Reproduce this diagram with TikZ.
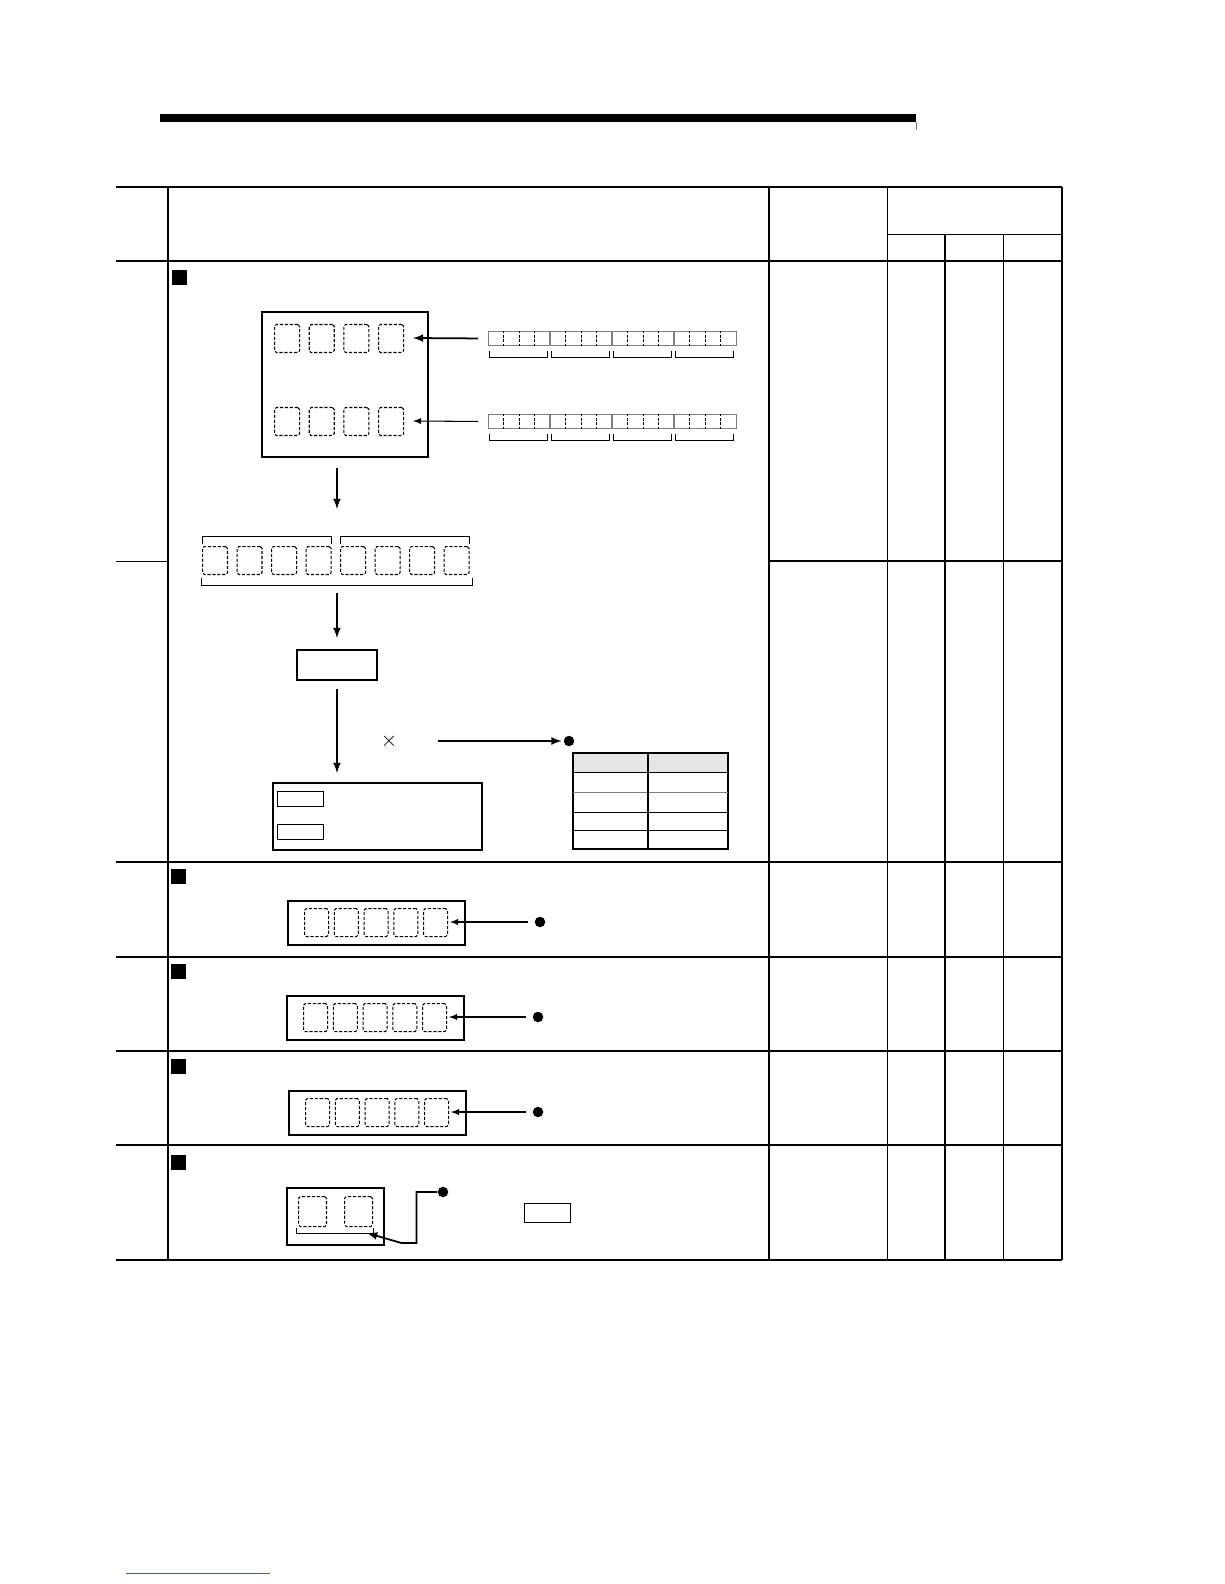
\documentclass[tikz,border=0pt]{standalone}
\usepackage{tikz}
\usetikzlibrary{arrows, positioning, fit, calc}

\begin{document}
\begin{tikzpicture}[x=0.02cm, y=-0.02cm]
    % Styles
    \tikzstyle{frame} = [line width=1.4pt]
    \tikzstyle{rule} = [line width=1pt]
    \tikzstyle{hair} = [line width=0.55pt]
    \tikzstyle{block} = [rectangle, draw, line width=1pt, inner sep=0pt, anchor=north west]
    \tikzstyle{keybox} = [rectangle, draw, line width=0.5pt, inner sep=0pt, anchor=north west, minimum width=0.92cm, minimum height=0.3cm]
    \tikzstyle{digit} = [rectangle, draw, dash pattern=on 1.8pt off 1pt, line width=0.6pt, rounded corners=1pt, inner sep=0pt, minimum width=0.5cm, minimum height=0.56cm, anchor=north west]
    \tikzstyle{bits} = [rectangle, draw=gray, line width=0.6pt, inner sep=0pt, minimum width=4.96cm, minimum height=0.28cm, anchor=north west]
    \tikzstyle{bullet} = [rectangle, fill, inner sep=0pt, minimum size=0.3cm, anchor=north west]
    \tikzstyle{dot} = [circle, fill, inner sep=0pt, minimum size=0.21cm]
    \tikzstyle{line} = [draw, -latex, line width=1pt]
    \tikzstyle{wire} = [draw, -latex, line width=0.6pt]

    \useasboundingbox (0,0) rectangle (1224,1584);

    % --- PAGE HEADER BAR ---
    \fill (160,114) rectangle (916,122);
    \draw[gray, line width=0.3pt] (916,122) -- (916,130);

    % --- TABLE GRID ---
    \draw[frame] (116,187) -- (1062,187);
    \draw[frame] (116,261) -- (1062,261);
    \draw[frame] (116,1260) -- (1062,1260);
    \draw[hair] (887,234) -- (1062,234);
    \draw[rule] (168,187) -- (168,1260);
    \draw[rule] (769,187) -- (769,1260);
    \draw[hair] (887,187) -- (887,1260);
    \draw[rule] (945,234) -- (945,1260);
    \draw[hair] (1003,234) -- (1003,1260);
    \draw[frame] (1062,187) -- (1062,1260);
    \draw[hair] (116,561) -- (168,561);
    \draw[rule] (769,561) -- (1062,561);
    \foreach \y in {862,957,1051,1145}
        \draw[rule] (116,\y) -- (1062,\y);

    % --- ROW 1: REGISTER PAIR ---
    \node[bullet] (sq1) at (172,270) {};
    \node[block, minimum width=3.32cm, minimum height=2.9cm] (reg) at (261,311) {};
    \foreach \i in {0,...,3} {
        \node[digit] (up\i) at ({274+34.7*\i},324) {};
        \node[digit] (lo\i) at ({274+34.7*\i},407) {};
    }

    % bit strips, 4 groups of 4 bits
    \node[bits] (bitsA) at (488,331) {};
    \node[bits] (bitsB) at (488,414) {};
    \foreach \s in {bitsA,bitsB} {
        \foreach \k in {1,...,15} {
            \pgfmathtruncatemacro{\grp}{mod(\k,4)}
            \ifnum\grp=0
                \draw[gray, line width=0.6pt] ($(\s.north west)+(\k*15.5,0)$) -- ($(\s.south west)+(\k*15.5,0)$);
            \else
                \draw[dash pattern=on 1.4pt off 1pt, line width=0.45pt] ($(\s.north west)+(\k*15.5,0)$) -- ($(\s.south west)+(\k*15.5,0)$);
            \fi
        }
        \foreach \g in {0,...,3}
            \draw[line width=0.45pt] ($(\s.south west)+(1+62*\g,5)$) -- ++(0,6) -- ++(58,0) -- ++(0,-6);
    }
    \coordinate (inA) at (413,338);
    \coordinate (inB) at (413,421);
    \path[line, shorten <=0.2cm] (bitsA.west) -- (inA);
    \path[wire, shorten <=0.2cm] (bitsB.west) -- (inB);

    % combined 8-digit word
    \foreach \i in {0,...,7}
        \node[digit] (q\i) at ({202+34.5*\i},546) {};
    \draw[line width=0.45pt] ($(q0.north west)+(0,-2)$) -- ++(0,-8) -| ($(q3.north east)+(0,-2)$);
    \draw[line width=0.45pt] ($(q4.north west)+(0,-2)$) -- ++(0,-8) -| ($(q7.north east)+(0,-2)$);
    \draw[line width=0.45pt] ($(q0.south west)+(-1,3)$) -- ++(0,7) -| ($(q7.south east)+(3,3)$);

    \node[block, line width=1.1pt, minimum width=1.6cm, minimum height=0.6cm] (conv) at (296,649) {};
    \node[block, line width=1.1pt, minimum width=4.18cm, minimum height=1.34cm] (res) at (272,782) {};
    \node[keybox] (key1) at (277,791) {};
    \node[keybox] (key2) at (277,824) {};

    \path[line, shorten <=0.2cm, shorten >=0.74cm] (conv |- reg.south) -- (conv |- q0.north);
    \path[line, shorten <=0.36cm, shorten >=0.22cm] (conv |- q0.south) -- (conv.north);
    \path[line, shorten <=0.16cm, shorten >=0.18cm] (conv.south) -- (conv |- res.north);

    % scaling to output
    \node[inner sep=0pt] (times) at (389,741) {\large$\times$};
    \coordinate (fromA) at (438,741);
    \node[dot] (dotA) at (569,741) {};
    \path[line, shorten >=1pt] (fromA) -- (dotA.west);

    % lookup table
    \node[draw, line width=0.8pt, inner sep=0pt, minimum width=3.1cm, minimum height=1.92cm, anchor=north west] (tbl) at (573,753) {};
    \fill[gray!20] (574,754) rectangle (727,772);
    \draw[line width=0.8pt] (573,753) rectangle (728,849);
    \draw[hair] (573,772) -- (728,772);
    \draw[gray, hair] (573,792) -- (728,792);
    \draw[hair] (573,812) -- (728,812);
    \draw[hair] (573,830) -- (728,830);
    \draw[line width=0.9pt] (648,753) -- (648,849);

    % --- ROWS 2 TO 4: FIVE-DIGIT DISPLAYS ---
    \foreach \n/\bx/\by/\dx in {2/287/900/540, 3/286/995/538, 4/288/1090/538} {
        \node[bullet] (sq\n) at (171,{\by-31}) {};
        \node[block, minimum width=3.54cm, minimum height=0.88cm] (disp\n) at (\bx,\by) {};
        \foreach \i in {0,...,4}
            \node[digit, minimum width=0.48cm] (d\n\i) at ({\bx+17+29.75*\i},{\by+8}) {};
        \node[dot] (dot\n) at (\dx,{\by+22}) {};
        \coordinate (in\n) at ({\bx+163},{\by+22});
        \path[wire, shorten <=0.12cm] (dot\n.west) -- (in\n);
    }

    % --- ROW 5: TWO-DIGIT DISPLAY ---
    \node[bullet] (sq5) at (171,1155) {};
    \node[block, minimum width=1.94cm, minimum height=1.14cm] (disp5) at (286,1187) {};
    \node[digit, minimum width=0.56cm, minimum height=0.6cm] (e0) at (298,1196) {};
    \node[digit, minimum width=0.56cm, minimum height=0.6cm] (e1) at (344,1196) {};
    \draw[line width=0.45pt] (296,1228) -- (296,1233) -- (373,1233) -- (373,1228);
    \coordinate (brk) at (367,1233);
    \node[dot] (dot5) at (443,1192) {};
    \path[line] (dot5.west) -- ++(-21,0) -- ++(0,51) -- ++(-15,0) -- (brk);
    \node[keybox, minimum height=0.38cm] (key3) at (524,1203) {};

    % --- FOOTER ---
    \draw[blue!70, line width=0.4pt] (126,1573) -- (270,1573);

\end{tikzpicture}
\end{document}
